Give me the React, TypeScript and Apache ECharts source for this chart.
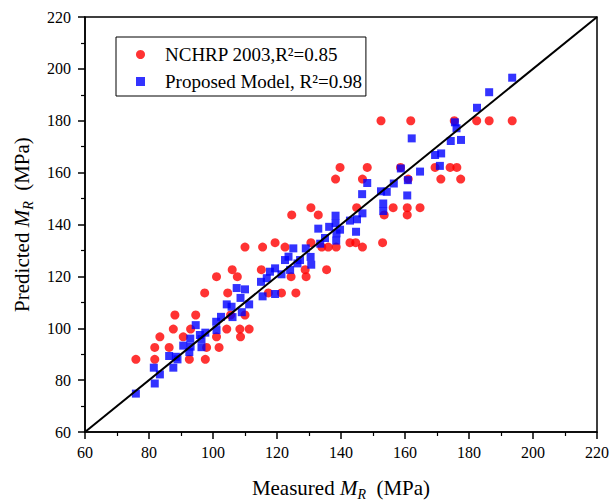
import React, { useEffect, useRef } from 'react';
import * as echarts from 'echarts';

const AXIS_MIN = 60;
const AXIS_MAX = 220;
const AXIS_STEP = 20;

const redName = 'NCHRP 2003,R²=0.85';
const blueName = 'Proposed Model, R²=0.98';

const redMeasured = [
  75.9, 81.8, 92.6, 97.6,
  81.8, 86.3, 98.0, 101.9,
  83.4, 90.7, 101.1, 108.6,
  87.6, 93.0, 104.3, 108.4, 111.3,
  88.1, 94.6, 105.5, 110.0,
  97.4, 104.6, 117.3, 121.4, 125.9,
  101.1, 107.6, 124.4, 129.1,
  106.0, 115.1, 128.8, 135.5,
  110.0, 115.5, 122.5, 134.0, 136.0, 138.5, 146.7,
  119.4, 130.6, 142.8, 144.6, 153.0,
  124.6, 132.9, 153.5, 160.7,
  130.6, 144.9, 156.3, 160.7, 164.7,
  138.3, 146.7, 161.0, 171.2, 177.4,
  139.7, 148.2, 158.6, 169.4, 174.1, 176.2,
  152.5, 161.8, 175.4, 182.4, 186.3, 193.5,
];
const redPredicted = [
  88.0, 88.0, 88.0, 88.0,
  92.6, 92.6, 92.6, 92.6,
  96.7, 96.7, 96.7, 96.7,
  99.7, 99.7, 99.7, 99.7, 99.7,
  105.1, 105.1, 105.1, 105.1,
  113.6, 113.6, 113.6, 113.6, 113.6,
  119.9, 119.9, 119.9, 119.9,
  122.6, 122.6, 122.6, 122.6,
  131.3, 131.3, 131.3, 131.3, 131.3, 131.3, 131.3,
  133.0, 133.0, 133.0, 133.0, 133.0,
  143.7, 143.7, 143.7, 143.7,
  146.5, 146.5, 146.5, 146.5, 146.5,
  157.5, 157.5, 157.5, 157.5, 157.5,
  162.0, 162.0, 162.0, 162.0, 162.0, 162.0,
  180.0, 180.0, 180.0, 180.0, 180.0, 180.0,
];

const blueMeasured = [
  75.9, 81.8, 83.4, 81.5, 87.6, 86.3, 88.4, 88.9, 90.7, 93.0,
  92.6, 92.9, 94.6, 96.4, 96.4, 97.6, 95.9, 101.1, 101.0, 102.5,
  104.3, 105.8, 106.1, 107.4, 108.6, 110.0, 109.0, 111.3, 115.5, 115.0,
  116.8, 117.8, 119.4, 119.4, 121.4, 122.5, 123.6, 124.1, 125.1, 126.4,
  127.2, 129.0, 130.5, 130.7, 132.9, 133.5, 135.0, 136.3, 138.6, 139.7,
  138.5, 138.3, 138.3, 142.8, 144.7, 145.0, 146.7, 146.6, 148.2, 152.5,
  154.3, 153.2, 153.2, 156.5, 158.7, 160.9, 160.7, 162.1, 164.7, 169.4,
  171.3, 170.9, 174.3, 177.5, 176.1, 175.6, 182.5, 186.3, 193.5,
];
const bluePredicted = [
  74.8, 78.7, 82.2, 84.8, 84.8, 89.3, 89.0, 88.0, 93.3, 92.9,
  90.8, 96.0, 101.2, 92.7, 95.8, 98.3, 97.4, 99.3, 102.5, 104.4,
  109.2, 108.3, 104.3, 115.5, 111.7, 115.0, 106.2, 109.2, 112.3, 117.9,
  119.3, 121.8, 123.1, 113.2, 120.8, 126.3, 127.6, 122.5, 130.8, 125.0,
  126.3, 130.8, 127.5, 124.5, 138.4, 132.6, 134.8, 139.1, 136.6, 138.0,
  133.8, 143.4, 140.5, 141.5, 137.2, 142.0, 144.3, 151.7, 156.0, 152.8,
  152.6, 148.1, 145.2, 155.8, 161.6, 157.1, 151.2, 173.2, 160.4, 166.8,
  167.4, 162.6, 172.2, 172.6, 177.1, 179.4, 185.0, 191.0, 196.6,
];

const diagonal = [AXIS_MIN, AXIS_MAX];

const FONT = 'Liberation Serif';

const zip = (a: number[], b: number[]) => a.map((v, i) => [v, b[i]]);

const nameRich = {
  a: { fontFamily: FONT, fontSize: 21, color: '#000', lineHeight: 26 },
  i: { fontFamily: FONT, fontSize: 21, color: '#000', fontStyle: 'italic', lineHeight: 26 },
  sub: { fontFamily: FONT, fontSize: 14, color: '#000', fontStyle: 'italic', verticalAlign: 'bottom' },
};

const axisCommon = {
  type: 'value',
  min: AXIS_MIN,
  max: AXIS_MAX,
  interval: AXIS_STEP,
  nameLocation: 'middle',
  axisLine: { show: true, lineStyle: { color: '#000', width: 1.5 } },
  axisTick: { show: true, length: 7, lineStyle: { color: '#000', width: 1.5 } },
  minorTick: { show: true, splitNumber: 2, length: 4, lineStyle: { color: '#000', width: 1.2 } },
  splitLine: { show: false },
  minorSplitLine: { show: false },
  nameTextStyle: { fontFamily: FONT, fontSize: 21, color: '#000', rich: nameRich },
};

export default function App() {
  const ref = useRef<HTMLDivElement>(null);
  useEffect(() => {
    const chart = echarts.init(ref.current!, null, { renderer: 'svg' });
    chart.setOption({
      animation: false,
      backgroundColor: '#fff',
      textStyle: { fontFamily: FONT },
      grid: {
        left: 85, right: 13, top: 17, bottom: 70,
        show: true, borderColor: '#000', borderWidth: 1.5,
        outerBoundsMode: 'none', containLabel: false,
      },
      legend: {
        data: [redName, blueName],
        orient: 'vertical',
        left: 116,
        top: 37,
        padding: [8, 4, 5, 20],
        itemGap: 8,
        itemWidth: 9,
        itemHeight: 9,
        borderColor: '#000',
        borderWidth: 1,
        textStyle: { fontFamily: FONT, fontSize: 19, color: '#000', padding: [0, 0, 0, 15] },
      },
      xAxis: {
        ...axisCommon,
        name: '{a|Measured }{i|M}{sub|R}{a|  (MPa)}',
        nameGap: 43,
        axisLabel: { color: '#000', fontFamily: FONT, fontSize: 16, margin: 12 },
      },
      yAxis: {
        ...axisCommon,
        name: '{a|Predicted }{i|M}{sub|R}{a|  (MPa)}',
        nameGap: 50,
        axisLabel: { color: '#000', fontFamily: FONT, fontSize: 16, margin: 14 },
      },
      series: [
        {
          name: redName,
          type: 'scatter',
          symbol: 'circle',
          symbolSize: 9,
          itemStyle: { color: '#ff0000' },
          data: zip(redMeasured, redPredicted),
        },
        {
          name: blueName,
          type: 'scatter',
          symbol: 'rect',
          symbolSize: 8,
          itemStyle: { color: '#0000ff' },
          data: zip(blueMeasured, bluePredicted),
        },
        {
          name: 'diagonal',
          type: 'line',
          showSymbol: false,
          symbol: 'none',
          silent: true,
          lineStyle: { color: '#000', width: 2 },
          data: [[diagonal[0], diagonal[0]], [diagonal[1], diagonal[1]]],
        },
      ],
    });
    return () => chart.dispose();
  }, []);
  return <div ref={ref} style={{ position: 'fixed', left: 0, top: 0, width: 610, height: 502 }} />;
}
